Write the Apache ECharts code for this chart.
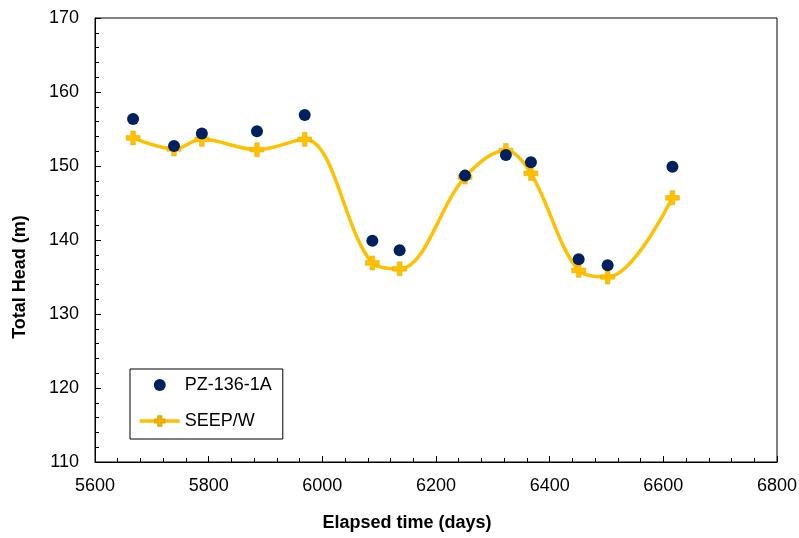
<!DOCTYPE html>
<html>
<head>
<meta charset="utf-8">
<script src="https://cdn.jsdelivr.net/npm/echarts@6/dist/echarts.min.js"></script>
<style>html,body{margin:0;padding:0;background:#fff}#c{width:799px;height:538px}</style>
</head>
<body>
<div id="c"></div>
<script>
var days = [5667, 5739, 5788, 5885, 5969, 6088, 6136, 6251, 6323, 6367, 6451, 6502, 6616];
var measured = [156.35, 152.7, 154.4, 154.7, 156.9, 139.9, 138.6, 148.7, 151.5, 150.5, 137.4, 136.6, 149.9];
var seepw = [153.8, 152.3, 153.6, 152.2, 153.6, 136.9, 136.1, 148.5, 152.1, 149.0, 135.9, 135.0, 145.7];
var xTicks = [5600, 5800, 6000, 6200, 6400, 6600, 6800];
var yTicks = [110, 120, 130, 140, 150, 160, 170];
var xTitle = 'Elapsed time (days)';
var yTitle = 'Total Head (m)';

var FONT = 'Arial, "Liberation Sans", sans-serif';
var plus = 'path://M-1,-3L1,-3L1,-1L3,-1L3,1L1,1L1,3L-1,3L-1,1L-3,1L-3,-1L-1,-1Z';

var chart = echarts.init(document.getElementById('c'), null, {renderer: 'canvas'});
chart.setOption({
  animation: false,
  backgroundColor: '#fff',
  textStyle: {fontFamily: FONT},
  grid: {left: 95, right: 22, top: 18, bottom: 76, show: true, borderColor: '#000', borderWidth: 1,
         backgroundColor: 'transparent', containLabel: false, outerBoundsMode: 'none'},
  legend: {
    left: 130, top: 369, orient: 'vertical',
    borderColor: '#000', borderWidth: 1, borderRadius: 0,
    padding: [7, 11, 9, 8], itemGap: 18, itemWidth: 40, itemHeight: 12,
    textStyle: {fontSize: 18, color: '#000', fontFamily: FONT},
    data: ['PZ-136-1A', {name: 'SEEP/W', lineStyle: {width: 3.5}}]
  },
  graphic: [
    {type: 'text', x: 407, y: 523, style: {text: xTitle, fill: '#000', font: 'bold 18px ' + FONT, align: 'center', verticalAlign: 'middle'}},
    {type: 'text', x: 20, y: 277, rotation: Math.PI / 2, style: {text: yTitle, fill: '#000', font: 'bold 18px ' + FONT, align: 'center', verticalAlign: 'middle'}}
  ],
  xAxis: {
    type: 'value', min: xTicks[0], max: xTicks[xTicks.length - 1], interval: 200,
    axisLine: {lineStyle: {color: '#000', width: 1}},
    axisTick: {inside: true, length: 6, lineStyle: {color: '#000'}},
    minorTick: {show: true, splitNumber: 5, length: 4, lineStyle: {color: '#000'}},
    axisLabel: {fontSize: 18, color: '#000', margin: 15, fontFamily: FONT, formatter: function (v) { return String(v); }},
    splitLine: {show: false}
  },
  yAxis: {
    type: 'value', min: yTicks[0], max: yTicks[yTicks.length - 1], interval: 10,
    axisLine: {lineStyle: {color: '#000', width: 1}},
    axisTick: {inside: true, length: 6, lineStyle: {color: '#000'}},
    minorTick: {show: true, splitNumber: 5, length: 4, lineStyle: {color: '#000'}},
    axisLabel: {fontSize: 18, color: '#000', margin: 16, fontFamily: FONT, formatter: function (v) { return String(v); }},
    splitLine: {show: false}
  },
  series: [
    {
      name: 'SEEP/W', type: 'line', smooth: 0.35, z: 2,
      data: days.map(function (d, i) { return [d, seepw[i]]; }),
      lineStyle: {color: '#FFC000', width: 3.5},
      symbol: plus, symbolSize: 14,
      itemStyle: {color: '#FFC000', borderColor: '#E6A800', borderWidth: 0.5, opacity: 1}
    },
    {
      name: 'PZ-136-1A', type: 'scatter', z: 3,
      data: days.map(function (d, i) { return [d, measured[i]]; }),
      symbol: 'circle', symbolSize: 12,
      itemStyle: {color: '#002060', opacity: 1}
    }
  ]
});
</script>
</body>
</html>
